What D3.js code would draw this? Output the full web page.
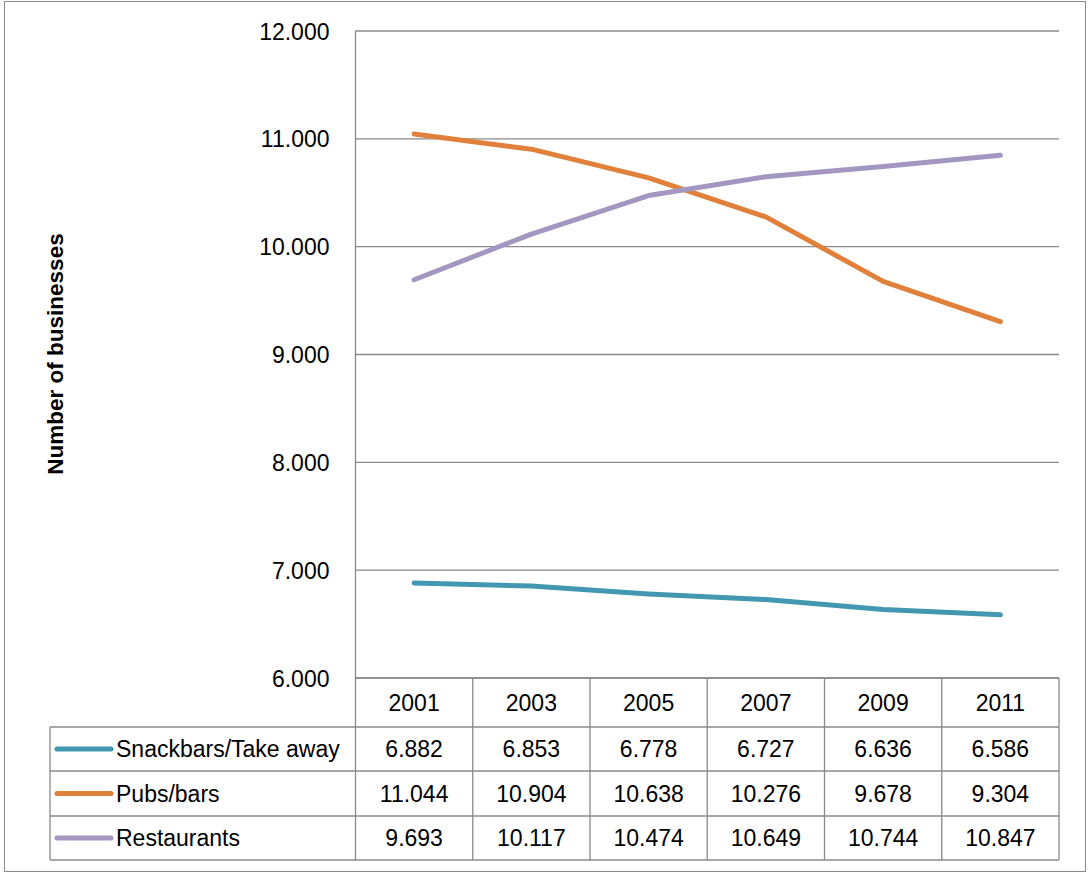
<!DOCTYPE html>
<html>
<head>
<meta charset="utf-8">
<script src="https://cdn.jsdelivr.net/npm/d3@7"></script>
<style>
body { margin: 0; background: #fff; }
text { font-family: "Liberation Sans", Arial, sans-serif; fill: #000; }
</style>
</head>
<body>
<div id="chart-area"></div>
<script>
/*
*    businesses line chart with data table
*/

var years = ["2001", "2003", "2005", "2007", "2009", "2011"];
var seriesNames = ["Snackbars/Take away", "Pubs/bars", "Restaurants"];
var snackbars = [6882, 6853, 6778, 6727, 6636, 6586];
var pubs = [11044, 10904, 10638, 10276, 9678, 9304];
var restaurants = [9693, 10117, 10474, 10649, 10744, 10847];
var yTicks = [6000, 7000, 8000, 9000, 10000, 11000, 12000];

var colors = ["#4198b0", "#e0803a", "#a396c0"];
var series = [snackbars, pubs, restaurants];

var width = 1089;
var height = 873;
var plot = {left: 355.5, right: 1059, top: 31, bottom: 678};
var rowLines = [678, 727, 771, 816, 860];
var tableLeft = 50;
var gridColor = "#8a8a8a";

var locale = d3.formatLocale({decimal: ",", thousands: ".", grouping: [3], currency: ["", ""]});
var fmt = locale.format(",");

var svg = d3.select("#chart-area").append("svg").attr("width", width).attr("height", height);

// outer frame
svg.append("rect").attr("x", 4.5).attr("y", 1.5).attr("width", 1081).attr("height", 870)
    .attr("fill", "none").attr("stroke", gridColor).attr("stroke-width", 1);

var x = d3.scaleBand().domain(years).range([plot.left, plot.right]).padding(0);
var y = d3.scaleLinear().domain([6000, 12000]).range([plot.bottom, plot.top]);

// gridlines
svg.append("g").selectAll("line").data(yTicks).enter().append("line")
    .attr("x1", plot.left).attr("x2", plot.right)
    .attr("y1", (d) => { return y(d); }).attr("y2", (d) => { return y(d); })
    .attr("stroke", gridColor).attr("stroke-width", 1.3);

// y axis
var yAxis = d3.axisLeft(y).tickValues(yTicks).tickSize(0).tickPadding(26).tickFormat(fmt);
var yAxisGroup = svg.append("g").attr("transform", "translate(" + plot.left + ",0)").call(yAxis);
yAxisGroup.select(".domain").remove();
yAxisGroup.selectAll("text").attr("font-size", "23px").attr("font-family", "Liberation Sans, Arial, sans-serif")
    .attr("fill", "#000").attr("dy", "0.35em");

svg.append("line").attr("x1", plot.left).attr("x2", plot.left).attr("y1", plot.top).attr("y2", rowLines[4])
    .attr("stroke", gridColor).attr("stroke-width", 1.3);

// y label
svg.append("text").attr("transform", "translate(63," + 354 + ") rotate(-90)")
    .attr("text-anchor", "middle").attr("font-size", "22.5px").attr("font-weight", "bold")
    .text("Number of businesses");

// lines
var line = d3.line()
    .x((d, i) => { return x(years[i]) + x.bandwidth() / 2; })
    .y((d) => { return y(d); });

svg.append("g").selectAll("path").data(series).enter().append("path")
    .attr("d", line)
    .attr("fill", "none")
    .attr("stroke", (d, i) => { return colors[i]; })
    .attr("stroke-width", 5)
    .attr("stroke-linejoin", "round")
    .attr("stroke-linecap", "round");

// data table
var table = svg.append("g");

table.selectAll(".hline").data(rowLines).enter().append("line").attr("class", "hline")
    .attr("x1", (d, i) => { return i < 1 ? plot.left : tableLeft; }).attr("x2", plot.right)
    .attr("y1", (d) => { return d; }).attr("y2", (d) => { return d; })
    .attr("stroke", gridColor).attr("stroke-width", 1.3);

var colEdges = years.map((d) => { return x(d) + x.bandwidth(); });
table.selectAll(".vline").data(colEdges).enter().append("line").attr("class", "vline")
    .attr("x1", (d) => { return d; }).attr("x2", (d) => { return d; })
    .attr("y1", rowLines[0]).attr("y2", rowLines[4])
    .attr("stroke", gridColor).attr("stroke-width", 1.3);

table.append("line").attr("x1", tableLeft).attr("x2", tableLeft).attr("y1", rowLines[1]).attr("y2", rowLines[4])
    .attr("stroke", gridColor).attr("stroke-width", 1.3);

// header years
table.selectAll(".year").data(years).enter().append("text").attr("class", "year")
    .attr("x", (d) => { return x(d) + x.bandwidth() / 2; })
    .attr("y", (rowLines[0] + rowLines[1]) / 2).attr("dy", "0.35em")
    .attr("text-anchor", "middle").attr("font-size", "23px")
    .text((d) => { return d; });

// rows
series.forEach((vals, s) => {
    var cy = (rowLines[s + 1] + rowLines[s + 2]) / 2;
    table.append("line").attr("x1", 57).attr("x2", 111).attr("y1", cy).attr("y2", cy)
        .attr("stroke", colors[s]).attr("stroke-width", 5).attr("stroke-linecap", "round");
    table.append("text").attr("x", 116).attr("y", cy).attr("dy", "0.35em")
        .attr("font-size", "23px").text(seriesNames[s]);
    table.append("g").selectAll("text").data(vals).enter().append("text")
        .attr("x", (d, i) => { return x(years[i]) + x.bandwidth() / 2; })
        .attr("y", cy).attr("dy", "0.35em")
        .attr("text-anchor", "middle").attr("font-size", "23px")
        .text((d) => { return fmt(d); });
});
</script>
</body>
</html>
